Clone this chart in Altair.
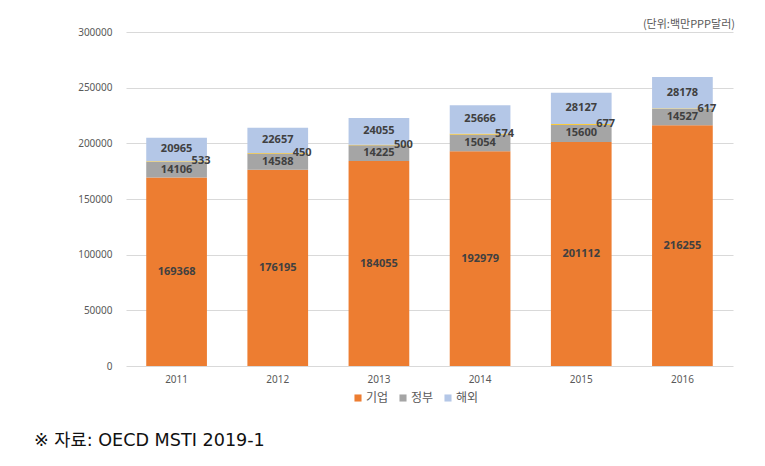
import altair as alt
import pandas as pd

years = ["2011", "2012", "2013", "2014", "2015", "2016"]
biz = [169368, 176195, 184055, 192979, 201112, 216255]
gov = [14106, 14588, 14225, 15054, 15600, 14527]
etc = [533, 450, 500, 574, 677, 617]
abroad = [20965, 22657, 24055, 25666, 28127, 28178]

series_names = ["기업", "정부", "기타", "해외"]
series_vals = [biz, gov, etc, abroad]
colors = ["#ED7D31", "#A5A5A5", "#FFC000", "#B4C7E7"]

rows = []
for si, (name, vals) in enumerate(zip(series_names, series_vals)):
    for y, v in zip(years, vals):
        rows.append({"year": y, "series": name, "value": v, "order": si})
df = pd.DataFrame(rows)

W, H = 607, 334

base = alt.Chart(df).transform_stack(
    stack="value", groupby=["year"], sort=[{"field": "order", "order": "ascending"}], as_=["y0", "y1"]
).transform_calculate(mid="(datum.y0 + datum.y1) / 2")

xenc = alt.X("year:N", sort=years, title=None,
             scale=alt.Scale(paddingInner=0.4, paddingOuter=0.2),
             axis=alt.Axis(labelAngle=0, domain=False, ticks=False, grid=False, labelPadding=8,
                           labelFontSize=10, labelColor="#595959", labelFont="Noto Sans"))

bars = base.mark_bar().encode(
    x=xenc,
    y=alt.Y("y0:Q", title=None,
            scale=alt.Scale(domain=[0, 300000]),
            axis=alt.Axis(values=[0, 50000, 100000, 150000, 200000, 250000, 300000],
                          format="d", domain=False, ticks=False, labelPadding=14,
                          labelFontSize=10, labelColor="#595959", labelFont="Noto Sans",
                          gridColor="#D9D9D9")),
    y2="y1:Q",
    color=alt.Color("series:N",
                    scale=alt.Scale(domain=series_names, range=colors),
                    legend=alt.Legend(values=["기업", "정부", "해외"], orient="none",
                                      legendX=226, legendY=360, direction="horizontal",
                                      title=None, symbolType="square", symbolSize=50,
                                      symbolStrokeWidth=0, labelFontSize=12,
                                      labelColor="#595959", labelFont="Noto Sans CJK KR",
                                      columnPadding=8, labelOffset=2)),
)

labels = base.transform_filter("datum.series != '기타'").mark_text(
    fontSize=11, fontWeight="bold", color="#404040", font="Noto Sans"
).encode(
    x=alt.X("year:N", sort=years),
    y=alt.Y("mid:Q"),
    text=alt.Text("value:Q", format="d"),
)

small_labels = base.transform_filter("datum.series == '기타'").mark_text(
    fontSize=11, fontWeight="bold", color="#404040", font="Noto Sans", align="left", dx=15
).encode(
    x=alt.X("year:N", sort=years),
    y=alt.Y("mid:Q"),
    text=alt.Text("value:Q", format="d"),
)

unit = alt.Chart(pd.DataFrame({"t": ["(단위:백만PPP달러)"]})).mark_text(
    align="right", baseline="middle", fontSize=11, color="#595959", font="Noto Sans CJK KR"
).encode(x=alt.value(W + 2), y=alt.value(-7), text="t:N")

source = alt.Chart(pd.DataFrame({"t": ["※ 자료: OECD MSTI 2019-1"]})).mark_text(
    align="left", baseline="middle", fontSize=17.6, color="#111111",
    font="DejaVu Sans, Noto Sans CJK KR"
).encode(x=alt.value(-92), y=alt.value(409), text="t:N")

chart = alt.layer(bars, labels, small_labels, unit, source).properties(
    width=W, height=H,
    background="white",
    autosize=alt.AutoSizeParams(type="none"),
    padding={"left": 126, "top": 32, "right": 32, "bottom": 100},
).configure_view(stroke=None)

chart.save("out.html", embed_options={"renderer": "svg", "actions": False})
